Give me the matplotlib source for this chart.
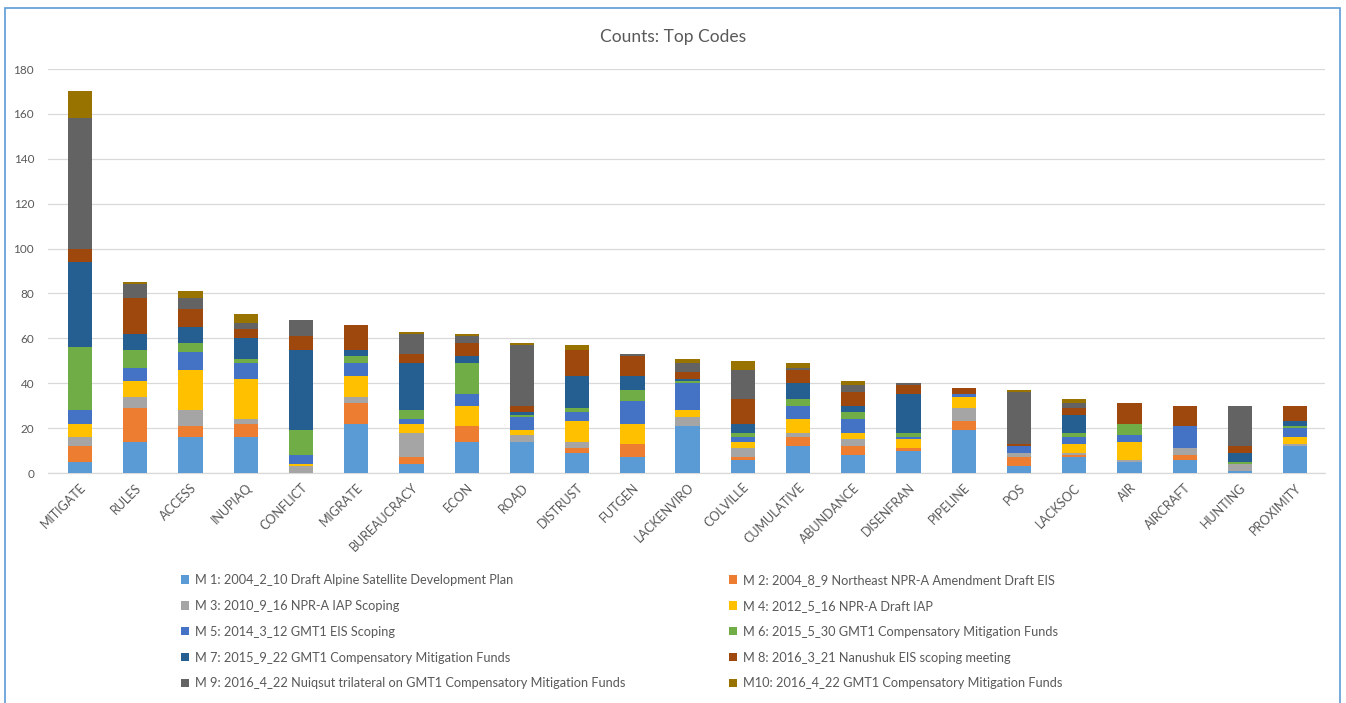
import matplotlib
matplotlib.use("Agg")
import matplotlib.pyplot as plt
import numpy as np
from matplotlib.patches import Rectangle, Patch

plt.rcParams['font.family'] = ['Lato', 'DejaVu Sans']

codes = ["MITIGATE", "RULES", "ACCESS", "INUPIAQ", "CONFLICT", "MIGRATE",
         "BUREAUCRACY", "ECON", "ROAD", "DISTRUST", "FUTGEN", "LACKENVIRO",
         "COLVILLE", "CUMULATIVE", "ABUNDANCE", "DISENFRAN", "PIPELINE", "POS",
         "LACKSOC", "AIR", "AIRCRAFT", "HUNTING", "PROXIMITY"]

meetings = [
    "M 1: 2004_2_10 Draft Alpine Satellite Development Plan",
    "M 2: 2004_8_9 Northeast NPR-A Amendment Draft EIS",
    "M 3: 2010_9_16 NPR-A IAP Scoping",
    "M 4: 2012_5_16 NPR-A Draft IAP",
    "M 5: 2014_3_12 GMT1 EIS Scoping",
    "M 6: 2015_5_30 GMT1 Compensatory Mitigation Funds",
    "M 7: 2015_9_22 GMT1 Compensatory Mitigation Funds",
    "M 8: 2016_3_21 Nanushuk EIS scoping meeting",
    "M 9: 2016_4_22 Nuiqsut trilateral on GMT1 Compensatory Mitigation Funds",
    "M10: 2016_4_22 GMT1 Compensatory Mitigation Funds",
]

colors = ["#5B9BD5", "#ED7D31", "#A5A5A5", "#FFC000", "#4472C4",
          "#70AD47", "#255E91", "#9E480E", "#636363", "#997300"]

# counts per code, one list per meeting (same order as codes)
m1  = [5, 14, 16, 16, 0, 22, 4, 14, 14, 9, 7, 21, 6, 12, 8, 10, 19, 3, 7, 5, 6, 1, 12]
m2  = [7, 15, 5, 6, 0, 9, 3, 7, 0, 2, 6, 0, 1, 4, 4, 1, 4, 4, 1, 0, 2, 0, 0]
m3  = [4, 5, 7, 2, 3, 3, 11, 0, 3, 3, 0, 4, 4, 2, 3, 0, 6, 2, 1, 1, 3, 3, 1]
m4  = [6, 7, 18, 18, 1, 9, 4, 9, 2, 9, 9, 3, 3, 6, 3, 4, 5, 0, 4, 8, 0, 0, 3]
m5  = [6, 6, 8, 7, 4, 6, 2, 5, 6, 4, 10, 12, 2, 6, 6, 1, 1, 3, 3, 3, 10, 0, 4]
m6  = [28, 8, 4, 2, 11, 3, 4, 14, 1, 2, 5, 1, 2, 3, 3, 2, 0, 0, 2, 5, 0, 1, 1]
m7  = [38, 7, 7, 9, 36, 3, 21, 3, 1, 14, 6, 1, 4, 7, 3, 17, 0, 0, 8, 0, 0, 4, 2]
m8  = [6, 16, 8, 4, 6, 11, 4, 6, 3, 12, 9, 3, 11, 6, 6, 4, 3, 1, 3, 9, 9, 3, 7]
m9  = [58, 6, 5, 3, 7, 0, 9, 3, 27, 0, 1, 4, 13, 1, 3, 1, 0, 23, 2, 0, 0, 18, 0]
m10 = [12, 1, 3, 4, 0, 0, 1, 1, 1, 2, 0, 2, 4, 2, 2, 0, 0, 1, 2, 0, 0, 0, 0]

series = [m1, m2, m3, m4, m5, m6, m7, m8, m9, m10]

W, H = 1346, 703
fig = plt.figure(figsize=(W / 100, H / 100), dpi=100)
ax = fig.add_axes([48 / W, 1 - 473 / H, (1325 - 48) / W, (473 - 69) / H])

x = np.arange(len(codes))
bottom = np.zeros(len(codes))
for vals, col in zip(series, colors):
    vals = np.array(vals, dtype=float)
    ax.bar(x, vals, width=0.44, bottom=bottom, color=col, linewidth=0, zorder=3)
    bottom += vals

ax.set_xlim(-0.58, len(codes) - 0.46)
ax.set_ylim(0, 180)
ax.set_yticks(np.arange(0, 181, 20))
ax.grid(axis='y', color="#D9D9D9", linewidth=0.9, zorder=0)
for s in ("top", "right", "left"):
    ax.spines[s].set_visible(False)
ax.spines["bottom"].set_color("#D9D9D9")
ax.spines["bottom"].set_linewidth(0.9)
ax.tick_params(axis='both', length=0, colors="#595959", labelsize=8.5)
ax.tick_params(axis='y', pad=10)
ax.tick_params(axis='x', pad=6)
ax.set_xticks(x)
ax.set_xticklabels(codes, rotation=45, ha='right', va='top',
                   rotation_mode='anchor', fontsize=9, color="#595959")

fig.text(673 / W, 1 - 37 / H, "Counts: Top Codes", ha='center', va='center',
         fontsize=12.5, color="#595959")

handles = [Patch(facecolor=c, edgecolor='none') for c in colors]
left_idx = [0, 2, 4, 6, 8]
right_idx = [1, 3, 5, 7, 9]
for idx, xpos in ((left_idx, 176 / W), (right_idx, 724 / W)):
    fig.legend([handles[i] for i in idx], [meetings[i] for i in idx],
               loc='upper left', bbox_to_anchor=(xpos, 1 - 569 / H),
               frameon=False, fontsize=9.2, labelcolor="#595959",
               handlelength=0.65, handleheight=0.65, handletextpad=0.4,
               labelspacing=1.08, borderaxespad=0)

fig.add_artist(Rectangle((5 / W, -0.01), (1340 - 5) / W, 1 - 8 / H + 0.01,
                         transform=fig.transFigure, fill=False,
                         edgecolor="#5B9BD5", linewidth=1.2))

fig.savefig("out.png", dpi=100)
